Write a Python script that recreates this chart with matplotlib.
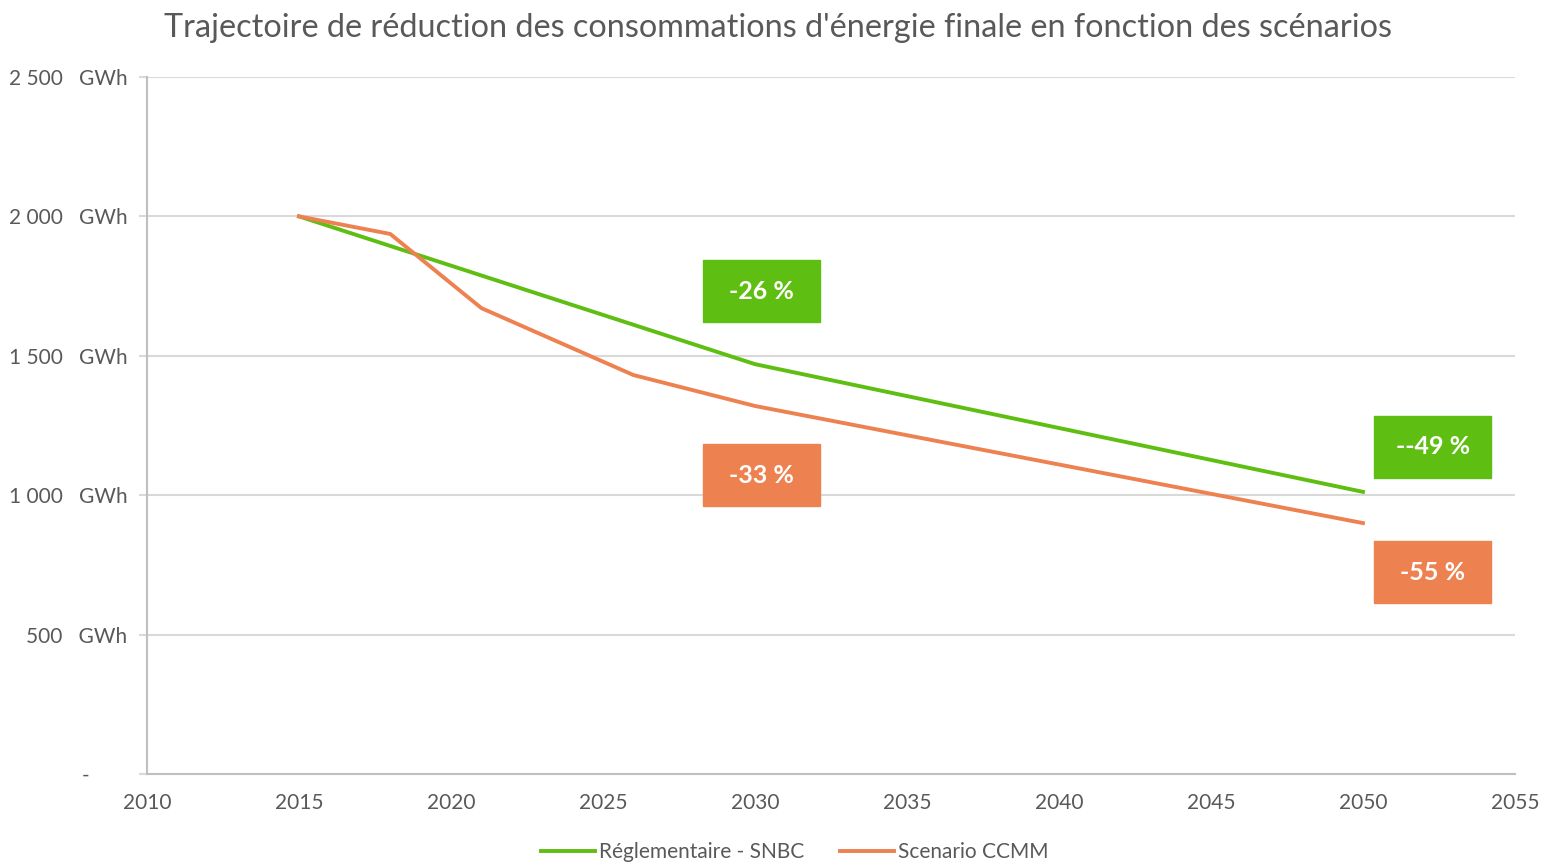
import matplotlib
matplotlib.use("Agg")
import matplotlib.pyplot as plt
from matplotlib.patches import Rectangle
from matplotlib.ticker import FuncFormatter

# data
years_snbc = [2015, 2030, 2050]
conso_snbc = [2000, 1470, 1012]
years_ccmm = [2015, 2018, 2021, 2026, 2030, 2050]
conso_ccmm = [2000, 1937, 1671, 1431, 1320, 900]

labels = ["-26 %", "-33 %", "--49 %", "-55 %"]
label_x = [2030.2, 2030.2, 2052.3, 2052.3]
label_y = [1732, 1072, 1173, 724]

GREEN = "#5fbe12"
ORANGE = "#ee8150"
GREY = "#595959"

plt.rcParams['font.family'] = ['Lato', 'DejaVu Sans']

fig = plt.figure(figsize=(15.43, 8.65), dpi=100)
ax = fig.add_axes([0.0953, 0.1052, 0.8865, 0.8058])

ax.plot(years_snbc, conso_snbc, color=GREEN, lw=2.8, label="Réglementaire - SNBC")
ax.plot(years_ccmm, conso_ccmm, color=ORANGE, lw=2.8, label="Scenario CCMM")

ax.set_xlim(2010, 2055)
ax.set_ylim(0, 2500)
ax.set_xticks(range(2010, 2056, 5))
ax.set_yticks(range(0, 2501, 500))

def fmt(v, pos):
    if v == 0:
        return "-       "
    s = "{:,}".format(int(v)).replace(",", " ")
    return s + "   GWh"
ax.yaxis.set_major_formatter(FuncFormatter(fmt))

ax.grid(axis='y', color="#d9d9d9", lw=1.5)
ax.set_axisbelow(True)
for s in ['top', 'right']:
    ax.spines[s].set_visible(False)
for s in ['left', 'bottom']:
    ax.spines[s].set_color("#bfbfbf")
    ax.spines[s].set_linewidth(1.5)
ax.tick_params(axis='y', length=6, color="#d9d9d9", width=1.5, labelsize=15, labelcolor=GREY, pad=8)
ax.tick_params(axis='x', length=0, labelsize=15, labelcolor=GREY, pad=14)

# percentage boxes
bw, bh = 3.85, 222
for lab, x, y in zip(labels, label_x, label_y):
    c = GREEN if lab in ("-26 %", "--49 %") else ORANGE
    ax.add_patch(Rectangle((x - bw / 2, y - bh / 2), bw, bh, color=c, clip_on=False, zorder=3))
    ax.text(x, y, lab, color="white", ha='center', va='center', fontsize=18,
            fontweight='bold', zorder=4, clip_on=False)

fig.text(0.504, 0.968, "Trajectoire de réduction des consommations d'énergie finale en fonction des scénarios",
         ha='center', va='center', fontsize=23.3, color=GREY)

fig.legend(loc='center', bbox_to_anchor=(0.515, 0.015), ncol=2, frameon=False,
           fontsize=15, labelcolor=GREY, handlelength=2.6, handletextpad=0.2, columnspacing=1.7)

fig.savefig("out.png", dpi=100)
